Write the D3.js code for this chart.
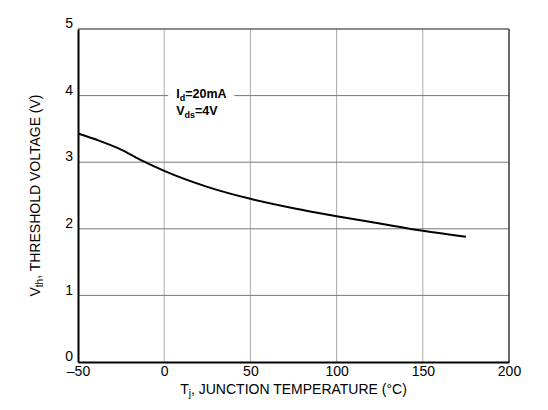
<!doctype html>
<html lang="en">
<head>
  <meta charset="utf-8">
  <title>Threshold voltage vs junction temperature - D3</title>
  <style>
    body { margin: 0; background: #fff; }
    text { font-family: "Liberation Sans", Arial, sans-serif; }
  </style>
</head>
<body>
  <svg></svg>
  <script src="https://cdn.jsdelivr.net/npm/d3@7/dist/d3.min.js"></script>
  <script>
    // data
    const temps = [-50, -37.5, -25, -12.5, 0, 25, 50, 75, 100, 125, 150, 175];
    const vth = [3.43, 3.32, 3.19, 3.02, 2.87, 2.63, 2.45, 2.31, 2.19, 2.08, 1.97, 1.88];
    const xTicks = [-50, 0, 50, 100, 150, 200];
    const yTicks = [0, 1, 2, 3, 4, 5];

    const width = 548;
    const height = 410;
    const margin = { top: 29, right: 39, bottom: 48, left: 78 };

    const svg = d3.select('svg')
      .attr('width', width)
      .attr('height', height)
      .attr('viewBox', [0, 0, width, height]);

    const x = d3.scaleLinear()
      .domain([-50, 200])
      .range([margin.left, width - margin.right]);

    const y = d3.scaleLinear()
      .domain([0, 5])
      .range([height - margin.bottom, margin.top]);

    // vertical grid
    svg.append('g')
      .selectAll('line')
      .data(xTicks.slice(1, -1))
      .join('line')
      .attr('x1', d => x(d)).attr('x2', d => x(d))
      .attr('y1', y(0)).attr('y2', y(5))
      .attr('stroke', '#aaa')
      .attr('stroke-width', 1);

    // horizontal grid
    svg.append('g')
      .selectAll('line')
      .data(yTicks.slice(1, -1))
      .join('line')
      .attr('x1', x(-50)).attr('x2', x(200))
      .attr('y1', d => y(d)).attr('y2', d => y(d))
      .attr('stroke', '#777')
      .attr('stroke-width', 1);

    // frame: top/right gray, left/bottom black
    svg.append('line')
      .attr('x1', x(-50)).attr('x2', x(200))
      .attr('y1', y(5)).attr('y2', y(5))
      .attr('stroke', '#666').attr('stroke-width', 1.6);
    svg.append('line')
      .attr('x1', x(200)).attr('x2', x(200))
      .attr('y1', y(5)).attr('y2', y(0))
      .attr('stroke', '#444').attr('stroke-width', 1.6);

    // x axis
    svg.append('g')
      .attr('transform', `translate(0,${y(0)})`)
      .call(d3.axisBottom(x).tickValues(xTicks).tickSize(0).tickPadding(4)
        .tickFormat(d => d < 0 ? '\u2013' + Math.abs(d) : d))
      .call(g => g.select('.domain').attr('stroke', '#000').attr('stroke-width', 2))
      .call(g => g.selectAll('text').attr('font-size', 14).attr('fill', '#000')
        .attr('font-family', '"Liberation Sans", Arial, sans-serif'));

    // y axis
    svg.append('g')
      .attr('transform', `translate(${x(-50)},0)`)
      .call(d3.axisLeft(y).tickValues(yTicks).tickSize(0).tickPadding(5)
        .tickFormat(d3.format('d')))
      .call(g => g.select('.domain').attr('stroke', '#000').attr('stroke-width', 2))
      .call(g => g.selectAll('text').attr('font-size', 14).attr('fill', '#000')
        .attr('dy', '-0.1em')
        .attr('font-family', '"Liberation Sans", Arial, sans-serif'));

    // curve
    const line = d3.line()
      .x((d, i) => x(temps[i]))
      .y(d => y(d))
      .curve(d3.curveMonotoneX);

    svg.append('path')
      .datum(vth)
      .attr('d', line)
      .attr('fill', 'none')
      .attr('stroke', '#000')
      .attr('stroke-width', 2);

    // annotation box
    svg.append('rect')
      .attr('x', x(0) + 4)
      .attr('y', y(4) - 8)
      .attr('width', 66)
      .attr('height', 30)
      .attr('fill', '#fff');

    const ann = svg.append('g')
      .attr('font-size', 12.5)
      .attr('font-weight', 'bold')
      .attr('fill', '#000');

    const t1 = ann.append('text')
      .attr('x', x(0) + 12)
      .attr('y', y(4) + 2);
    t1.append('tspan').text('I');
    t1.append('tspan').text('d').attr('font-size', 9).attr('dy', 3);
    t1.append('tspan').text('=20mA').attr('dy', -3);

    const t2 = ann.append('text')
      .attr('x', x(0) + 12)
      .attr('y', y(4) + 19);
    t2.append('tspan').text('V');
    t2.append('tspan').text('ds').attr('font-size', 9).attr('dy', 3);
    t2.append('tspan').text('=4V').attr('dy', -3);

    // axis titles
    const xt = svg.append('text')
      .attr('x', (x(-50) + x(200)) / 2)
      .attr('y', height - 16)
      .attr('text-anchor', 'middle')
      .attr('font-size', 14);
    xt.append('tspan').text('T');
    xt.append('tspan').text('j').attr('font-size', 10).attr('dy', 3);
    xt.append('tspan').text(', JUNCTION TEMPERATURE (°C)').attr('dy', -3);

    const yt = svg.append('text')
      .attr('transform', `translate(40,${(y(0) + y(5)) / 2}) rotate(-90)`)
      .attr('text-anchor', 'middle')
      .attr('font-size', 14);
    yt.append('tspan').text('V');
    yt.append('tspan').text('th').attr('font-size', 10).attr('dy', 3);
    yt.append('tspan').text(', THRESHOLD VOLTAGE (V)').attr('dy', -3);
  </script>
</body>
</html>
